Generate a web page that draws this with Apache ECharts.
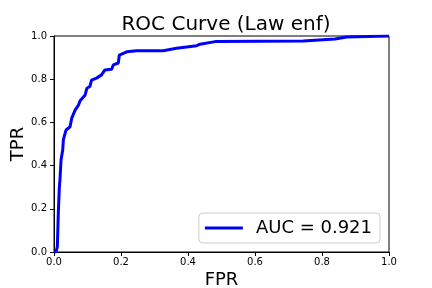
<!DOCTYPE html>
<html>
<head>
<meta charset="utf-8">
<script src="https://cdn.jsdelivr.net/npm/echarts@6/dist/echarts.min.js"></script>
<style>html,body{margin:0;padding:0;background:#fff;}#c{width:432px;height:288px;}</style>
</head>
<body>
<div id="c"></div>
<script>
const fpr = [0, 0.006, 0.010, 0.013, 0.016, 0.018, 0.021, 0.026, 0.028, 0.036, 0.048, 0.053, 0.063, 0.073, 0.078, 0.093, 0.098, 0.107, 0.112, 0.127, 0.142, 0.152, 0.172, 0.177, 0.192, 0.195, 0.217, 0.247, 0.326, 0.331, 0.366, 0.371, 0.426, 0.436, 0.481, 0.744, 0.749, 0.839, 0.844, 0.874, 0.878, 1.0];
const tpr = [0, 0.0, 0.025, 0.187, 0.30, 0.34, 0.426, 0.472, 0.52, 0.565, 0.58, 0.62, 0.657, 0.68, 0.70, 0.727, 0.758, 0.766, 0.796, 0.805, 0.82, 0.843, 0.846, 0.866, 0.875, 0.912, 0.927, 0.932, 0.932, 0.938, 0.943, 0.943, 0.955, 0.962, 0.974, 0.977, 0.983, 0.986, 0.992, 0.995, 0.998, 1.0];
const seriesName = 'AUC = 0.921';
const titleText = 'ROC Curve (Law enf)';
const xName = 'FPR';
const yName = 'TPR';

const font = 'DejaVu Sans';
const chart = echarts.init(document.getElementById('c'), null, {renderer: 'canvas'});
const data = fpr.map((x, i) => [x, tpr[i]]);
const axisCommon = {
  type: 'value', min: 0, max: 1, interval: 0.2,
  nameLocation: 'middle',
  nameMoveOverlap: false,
  nameTextStyle: {fontFamily: font, fontSize: 18, color: '#000'},
  axisLine: {show: true, onZero: false, lineStyle: {color: '#000', width: 1}},
  axisTick: {show: true, length: 4, lineStyle: {color: '#000'}},
  axisLabel: {fontFamily: font, fontSize: 10, color: '#000', formatter: v => v.toFixed(1)},
  splitLine: {show: false}
};
chart.setOption({
  animation: false,
  backgroundColor: '#fff',
  title: {
    text: titleText, left: 221, top: 10, textAlign: 'center',
    textStyle: {fontFamily: font, fontSize: 20, fontWeight: 'normal', color: '#000'}
  },
  grid: {left: 54, right: 43, top: 36, bottom: 36, containLabel: false, outerBoundsMode: 'none',
         show: true, borderColor: '#000', borderWidth: 1, backgroundColor: 'transparent'},
  xAxis: Object.assign({}, axisCommon, {name: xName, nameGap: 19, axisLabel: Object.assign({}, axisCommon.axisLabel, {margin: 5})}),
  yAxis: Object.assign({}, axisCommon, {name: yName, nameGap: 27, axisLabel: Object.assign({}, axisCommon.axisLabel, {margin: 7})}),
  legend: {
    data: [{name: seriesName, icon: 'rect'}],
    right: 52, bottom: 45,
    itemWidth: 38, itemHeight: 3,
    padding: [6, 8, 6, 6],
    borderColor: '#ccc', borderWidth: 1, borderRadius: 4, backgroundColor: '#fff',
    textStyle: {fontFamily: font, fontSize: 18, color: '#000', padding: [0, 0, 0, 8]}
  },
  series: [{
    name: seriesName, type: 'line', data: data,
    showSymbol: false, symbol: 'none',
    lineStyle: {color: '#0000ff', width: 3},
    itemStyle: {color: '#0000ff'}
  }]
});
</script>
</body>
</html>
